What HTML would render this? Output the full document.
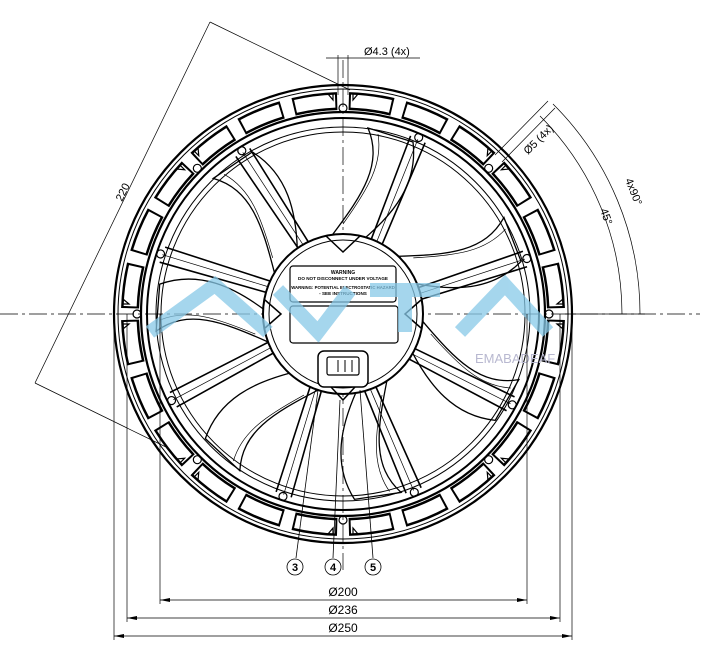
<!DOCTYPE html>
<html><head><meta charset="utf-8"><style>
html,body{margin:0;padding:0;background:#fff}
svg{display:block}
text{font-family:"Liberation Sans",sans-serif;fill:#000}
</style></head><body>
<svg width="710" height="653" viewBox="0 0 710 653" xmlns="http://www.w3.org/2000/svg">
<defs>
<g id="blade">
<path d="M-10,-80 C20,-120 40,-150 25,-186 L70,-172 C75,-130 50,-100 22,-76 Z" fill="none" stroke="#000" stroke-width="1.3"/>
<path d="M0,-90 C25,-125 40,-150 35,-180" fill="none" stroke="#000" stroke-width="0.7"/>
</g>
<g id="strut">
<path d="M-6,-80 L-14,-190 M6,-80 L2,-190" stroke="#000" stroke-width="1.6" fill="none"/>
<path d="M0,-80 L-6,-190" stroke="#000" stroke-width="0.7" fill="none"/>
<circle cx="-6" cy="-192" r="4" fill="none" stroke="#000" stroke-width="1.2"/>
</g>
<g id="hole">
<circle cx="0" cy="-206" r="4" fill="none" stroke="#000" stroke-width="1.2"/>
<path d="M-10,-214 l-5,-6 l5,0 z M10,-214 l5,-6 l-5,0 z" fill="none" stroke="#000" stroke-width="1.2"/>
</g>
</defs>

<line x1="0" y1="314" x2="700" y2="314" stroke="#000" stroke-width="0.7" stroke-dasharray="18,4,3,4"/>
<line x1="343" y1="60" x2="343" y2="570" stroke="#000" stroke-width="0.7" stroke-dasharray="18,4,3,4"/>

<g transform="translate(343,314)">
<circle r="229" fill="none" stroke="#000" stroke-width="2.2"/>
<circle r="225" fill="none" stroke="#000" stroke-width="1"/>
<circle r="213" fill="none" stroke="#000" stroke-width="18" stroke-dasharray="44,11.75" stroke-dashoffset="49.9"/>
<circle r="213" fill="none" stroke="#fff" stroke-width="13" stroke-dasharray="40,15.75" stroke-dashoffset="47.9"/>
<circle r="202" fill="none" stroke="#000" stroke-width="2.2"/>
<circle r="196" fill="none" stroke="#000" stroke-width="2"/>
<circle r="187" fill="none" stroke="#000" stroke-width="1"/>
<circle r="182" fill="none" stroke="#000" stroke-width="1"/>
<g>
<use href="#blade"/>
<use href="#blade" transform="rotate(51.4)"/>
<use href="#blade" transform="rotate(102.8)"/>
<use href="#blade" transform="rotate(154.3)"/>
<use href="#blade" transform="rotate(205.7)"/>
<use href="#blade" transform="rotate(257.1)"/>
<use href="#blade" transform="rotate(308.6)"/>
</g>
<g>
<use href="#strut" transform="rotate(-30)"/>
<use href="#strut" transform="rotate(25)"/>
<use href="#strut" transform="rotate(75)"/>
<use href="#strut" transform="rotate(120)"/>
<use href="#strut" transform="rotate(160)"/>
<use href="#strut" transform="rotate(200)"/>
<use href="#strut" transform="rotate(245)"/>
<use href="#strut" transform="rotate(290)"/>
</g>
<g>
<use href="#hole"/><use href="#hole" transform="rotate(45)"/><use href="#hole" transform="rotate(90)"/><use href="#hole" transform="rotate(135)"/>
<use href="#hole" transform="rotate(180)"/><use href="#hole" transform="rotate(225)"/><use href="#hole" transform="rotate(270)"/><use href="#hole" transform="rotate(315)"/>
</g>
<circle r="80" fill="#fff" stroke="#000" stroke-width="2"/>
<circle r="74" fill="none" stroke="#000" stroke-width="1"/>
<path d="M-17,-78 L0,-62 L17,-78" fill="none" stroke="#000" stroke-width="1.5"/>
<path d="M-78,-14 L-62,0 L-78,14 M78,-14 L62,0 L78,14" fill="none" stroke="#000" stroke-width="1.5"/>
<rect x="-53" y="-48" width="106" height="36" rx="3" fill="#fff" stroke="#000" stroke-width="1.2"/>
<rect x="-53" y="-8" width="108" height="37" rx="3" fill="#fff" stroke="#000" stroke-width="1.2"/>
<text x="0" y="-40" font-size="5" text-anchor="middle" font-weight="bold">WARNING</text>
<text x="0" y="-34" font-size="4.6" text-anchor="middle" font-weight="bold">DO NOT DISCONNECT UNDER VOLTAGE</text>
<text x="0" y="-25" font-size="4.3" text-anchor="middle" font-weight="bold">WARNING: POTENTIAL ELECTROSTATIC HAZARD</text>
<text x="0" y="-19" font-size="4.6" text-anchor="middle" font-weight="bold">- SEE INSTRUCTIONS</text>
<rect x="-25" y="37" width="50" height="36" rx="6" fill="#fff" stroke="#000" stroke-width="1.5"/>
<rect x="-16" y="43" width="32" height="18" rx="2" fill="none" stroke="#000" stroke-width="1.2"/>
<path d="M-5,46 v12 M2,46 v12 M9,46 v12" stroke="#000"/>
<path d="M-12,73 L0,86 L12,73" fill="none" stroke="#000" stroke-width="1.5"/>
</g>

<g fill="none" stroke="#87c9e8" stroke-width="14" opacity="0.75">
<path d="M150,332 L215,285 L268,332"/>
<path d="M278,290 L318,332 L350,290"/>
<path d="M370,290 L440,290 M405,290 L405,332"/>
<path d="M460,332 L505,285 L548,332"/>
</g>
<text x="475" y="363" font-size="13" style="fill:#b8b8d0">EMABADEAF</text>

<line x1="338" y1="55" x2="338" y2="95" stroke="#000" stroke-width="0.7"/>
<line x1="348" y1="55" x2="348" y2="95" stroke="#000" stroke-width="0.7"/>
<line x1="326" y1="58" x2="420" y2="58" stroke="#000" stroke-width="0.7"/>
<text x="364" y="55" font-size="11">Ø4.3 (4x)</text>

<g transform="translate(528,155) rotate(-45)">
<text x="0" y="0" font-size="11">Ø5 (4x)</text>
</g>
<line x1="495" y1="155" x2="548" y2="101" stroke="#000" stroke-width="0.7"/>
<line x1="502" y1="162" x2="555" y2="108" stroke="#000" stroke-width="0.7"/>

<path d="M540,116 A280,280 0 0 1 622,314" fill="none" stroke="#000" stroke-width="0.7"/>
<path d="M553,104 A296,296 0 0 1 640,314" fill="none" stroke="#000" stroke-width="0.7"/>
<line x1="565" y1="314" x2="645" y2="314" stroke="#000" stroke-width="0.7"/>
<text x="0" y="0" font-size="11" transform="translate(600,210) rotate(70)">45°</text>
<text x="0" y="0" font-size="11" transform="translate(625,180) rotate(68)">4x90°</text>

<line x1="210" y1="22" x2="35" y2="383" stroke="#000" stroke-width="0.7"/>
<line x1="210" y1="22" x2="350" y2="90" stroke="#000" stroke-width="0.7"/>
<line x1="35" y1="383" x2="168" y2="448" stroke="#000" stroke-width="0.7"/>
<text x="0" y="0" font-size="11" transform="translate(122,202) rotate(-64)">220</text>

<g fill="none" stroke="#000" stroke-width="0.8">
<line x1="296" y1="558" x2="318" y2="390"/><circle cx="295" cy="567" r="8"/>
<line x1="333" y1="558" x2="340" y2="400"/><circle cx="333" cy="567" r="8"/>
<line x1="373" y1="558" x2="360" y2="390"/><circle cx="373" cy="567" r="8"/>
</g>
<text x="295" y="571" font-size="11" text-anchor="middle" font-weight="bold">3</text>
<text x="333" y="571" font-size="11" text-anchor="middle" font-weight="bold">4</text>
<text x="373" y="571" font-size="11" text-anchor="middle" font-weight="bold">5</text>

<g stroke="#000" stroke-width="0.7">
<line x1="160" y1="314" x2="160" y2="604"/><line x1="527" y1="314" x2="527" y2="604"/>
<line x1="127" y1="314" x2="127" y2="622"/><line x1="560" y1="314" x2="560" y2="622"/>
<line x1="114" y1="314" x2="114" y2="640"/><line x1="572" y1="314" x2="572" y2="640"/>
<line x1="160" y1="600" x2="527" y2="600"/>
<line x1="127" y1="618" x2="560" y2="618"/>
<line x1="114" y1="636" x2="572" y2="636"/>
</g>
<g fill="#000">
<path d="M160,600 l10,-2 v4z M527,600 l-10,-2 v4z"/>
<path d="M127,618 l10,-2 v4z M560,618 l-10,-2 v4z"/>
<path d="M114,636 l10,-2 v4z M572,636 l-10,-2 v4z"/>
</g>
<text x="343" y="596" font-size="12" text-anchor="middle">Ø200</text>
<text x="343" y="614" font-size="12" text-anchor="middle">Ø236</text>
<text x="343" y="632" font-size="12" text-anchor="middle">Ø250</text>
</svg>
</body></html>
